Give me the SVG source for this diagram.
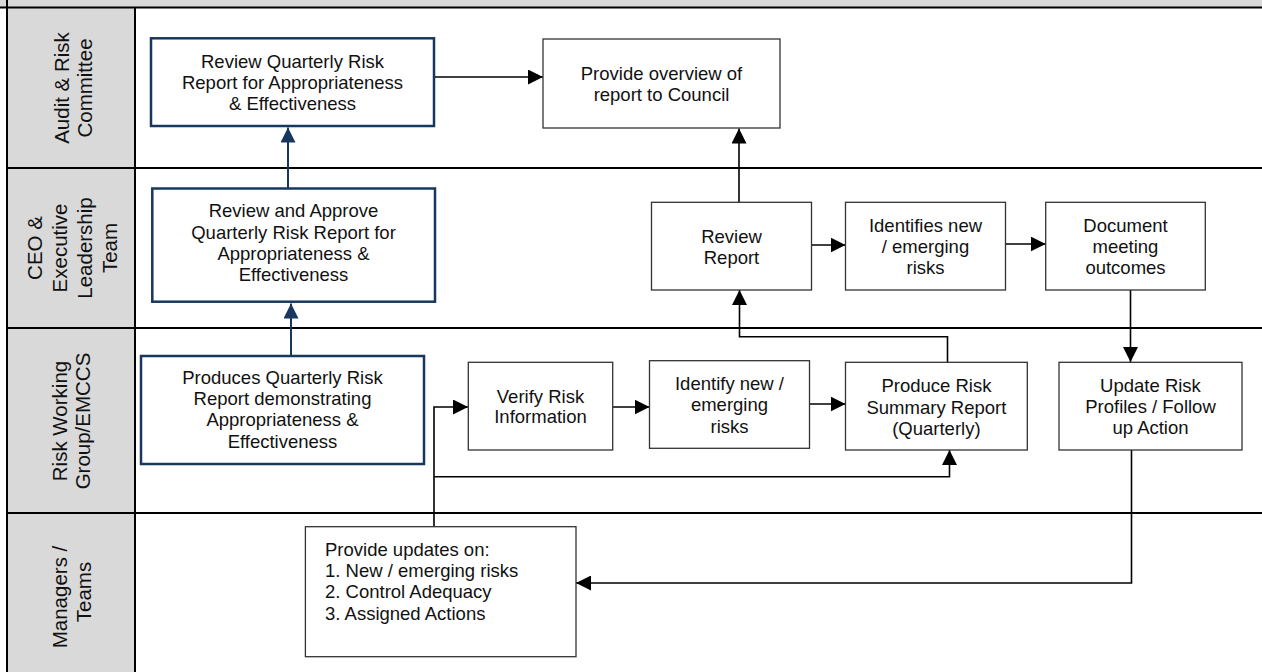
<svg xmlns="http://www.w3.org/2000/svg" width="1262" height="672" viewBox="0 0 1262 672">
<style>
.grid{stroke:#000;stroke-width:2;fill:none}
.box{fill:#fff;stroke:#333;stroke-width:1.3}
.nbox{fill:#fff;stroke:#17375e;stroke-width:2.5}
.t{font-family:"Liberation Sans",Arial,sans-serif;font-size:18.5px;fill:#111;text-anchor:middle}
.tl{font-family:"Liberation Sans",Arial,sans-serif;font-size:18.5px;fill:#111}
.lane{font-family:"Liberation Sans",Arial,sans-serif;font-size:20.5px;fill:#111;text-anchor:middle}
.c{stroke:#000;stroke-width:1.6;fill:none}
.cn{stroke:#17375e;stroke-width:2;fill:none}
</style>
<defs>
<marker id="ah" markerUnits="userSpaceOnUse" markerWidth="15" markerHeight="15" refX="15" refY="7.5" orient="auto"><path d="M0,0 L15,7.5 L0,15 z" fill="#000"/></marker>
<marker id="ahn" markerUnits="userSpaceOnUse" markerWidth="15" markerHeight="15" refX="15" refY="7.5" orient="auto"><path d="M0,0 L15,7.5 L0,15 z" fill="#17375e"/></marker>
</defs>
<rect x="0" y="0" width="1262" height="672" fill="#fff"/>
<g id="lanes">
<rect x="0" y="0" width="1262" height="7.5" fill="#d9d9d9"/>
<rect x="7" y="7.5" width="128" height="664.5" fill="#d9d9d9"/>
<line class="grid" x1="0" y1="7.5" x2="1262" y2="7.5"/>
<line class="grid" x1="7" y1="0" x2="7" y2="672"/>
<line class="grid" x1="135" y1="7.5" x2="135" y2="672"/>
<line class="grid" x1="7" y1="168" x2="1262" y2="168"/>
<line class="grid" x1="7" y1="328" x2="1262" y2="328"/>
<line class="grid" x1="7" y1="513" x2="1262" y2="513"/>
<g transform="translate(0,88) rotate(-90)"><text class="lane" x="0" y="68.5">Audit &amp; Risk</text><text class="lane" x="0" y="92">Committee</text></g>
<g transform="translate(0,248) rotate(-90)"><text class="lane" x="0" y="42">CEO &amp;</text><text class="lane" x="0" y="67">Executive</text><text class="lane" x="0" y="92">Leadership</text><text class="lane" x="0" y="117">Team</text></g>
<g transform="translate(0,421) rotate(-90)"><text class="lane" x="0" y="66.5">Risk Working</text><text class="lane" x="0" y="90">Group/EMCCS</text></g>
<g transform="translate(0,592) rotate(-90)"><text class="lane" x="-5" y="66.5">Managers /</text><text class="lane" x="0" y="90.5">Teams</text></g>
</g>
<g id="connectors">
<path class="cn" d="M291,356 L291,303.5" marker-end="url(#ahn)"/>
<path class="cn" d="M288,188 L288,127.5" marker-end="url(#ahn)"/>
<path class="c" d="M434,77 L543,77" marker-end="url(#ah)"/>
<path class="c" d="M739,202 L739,128.5" marker-end="url(#ah)"/>
<path class="c" d="M811.6,245 L845.5,245" marker-end="url(#ah)"/>
<path class="c" d="M1005.6,244 L1045.7,244" marker-end="url(#ah)"/>
<path class="c" d="M1130.5,290 L1130.5,362" marker-end="url(#ah)"/>
<path class="c" d="M1131.5,450 L1131.5,583 L576,583" marker-end="url(#ah)"/>
<path class="c" d="M434,527 L434,407 L468,407" marker-end="url(#ah)"/>
<path class="c" d="M434,476.7 L949.5,476.7 L949.5,450" marker-end="url(#ah)"/>
<path class="c" d="M612.7,407 L649.5,407" marker-end="url(#ah)"/>
<path class="c" d="M809.5,404 L845.5,404" marker-end="url(#ah)"/>
<path class="c" d="M947.5,362 L947.5,336.7 L739.5,336.7 L739.5,290" marker-end="url(#ah)"/>
</g>
<g id="n-arc-review">
<rect class="nbox" x="151" y="38.3" width="283" height="87.7"/>
<text class="t" x="292.5" y="68.3">Review Quarterly Risk</text>
<text class="t" x="292.5" y="89.2">Report for Appropriateness</text>
<text class="t" x="292.5" y="109.8">&amp; Effectiveness</text>
</g>
<g id="n-council">
<rect class="box" x="543" y="39" width="237" height="89"/>
<text class="t" x="661.5" y="80">Provide overview of</text>
<text class="t" x="661.5" y="101">report to Council</text>
</g>
<g id="n-ceo-approve">
<rect class="nbox" x="152.3" y="188.5" width="282.7" height="113.2"/>
<text class="t" x="293.5" y="217.3">Review and Approve</text>
<text class="t" x="293.5" y="238.6">Quarterly Risk Report for</text>
<text class="t" x="293.5" y="259.9">Appropriateness &amp;</text>
<text class="t" x="293.5" y="281.2">Effectiveness</text>
</g>
<g id="n-review-report">
<rect class="box" x="651.5" y="202.3" width="160" height="87.7"/>
<text class="t" x="731.5" y="243.4">Review</text>
<text class="t" x="731.5" y="264.3">Report</text>
</g>
<g id="n-identifies">
<rect class="box" x="845.5" y="202.3" width="160" height="87.7"/>
<text class="t" x="925.5" y="231.9">Identifies new</text>
<text class="t" x="925.5" y="253.2">/ emerging</text>
<text class="t" x="925.5" y="274.4">risks</text>
</g>
<g id="n-document">
<rect class="box" x="1045.7" y="202.3" width="159.6" height="87.7"/>
<text class="t" x="1125.5" y="231.9">Document</text>
<text class="t" x="1125.5" y="253.2">meeting</text>
<text class="t" x="1125.5" y="274.4">outcomes</text>
</g>
<g id="n-produces">
<rect class="nbox" x="141" y="356" width="283" height="108"/>
<text class="t" x="282.5" y="384">Produces Quarterly Risk</text>
<text class="t" x="282.5" y="405.2">Report demonstrating</text>
<text class="t" x="282.5" y="426.4">Appropriateness &amp;</text>
<text class="t" x="282.5" y="447.6">Effectiveness</text>
</g>
<g id="n-verify">
<rect class="box" x="468.3" y="362.3" width="144.4" height="87.7"/>
<text class="t" x="540.5" y="402.7">Verify Risk</text>
<text class="t" x="540.5" y="423.4">Information</text>
</g>
<g id="n-identify">
<rect class="box" x="649.5" y="360.7" width="160" height="87.6"/>
<text class="t" x="729.5" y="390">Identify new /</text>
<text class="t" x="729.5" y="411.4">emerging</text>
<text class="t" x="729.5" y="432.7">risks</text>
</g>
<g id="n-summary">
<rect class="box" x="845.5" y="362.3" width="181.8" height="87.7"/>
<text class="t" x="936.4" y="392.3">Produce Risk</text>
<text class="t" x="936.4" y="413.5">Summary Report</text>
<text class="t" x="936.4" y="434.6">(Quarterly)</text>
</g>
<g id="n-update">
<rect class="box" x="1059" y="362.3" width="183" height="87.7"/>
<text class="t" x="1150.5" y="391.8">Update Risk</text>
<text class="t" x="1150.5" y="413">Profiles / Follow</text>
<text class="t" x="1150.5" y="434.2">up Action</text>
</g>
<g id="n-managers">
<rect class="box" x="305.4" y="526.7" width="270.6" height="130"/>
<text class="tl" x="325" y="556">Provide updates on:</text>
<text class="tl" x="325" y="577.2">1. New / emerging risks</text>
<text class="tl" x="325" y="598.4">2. Control Adequacy</text>
<text class="tl" x="325" y="619.6">3. Assigned Actions</text>
</g>
</svg>
